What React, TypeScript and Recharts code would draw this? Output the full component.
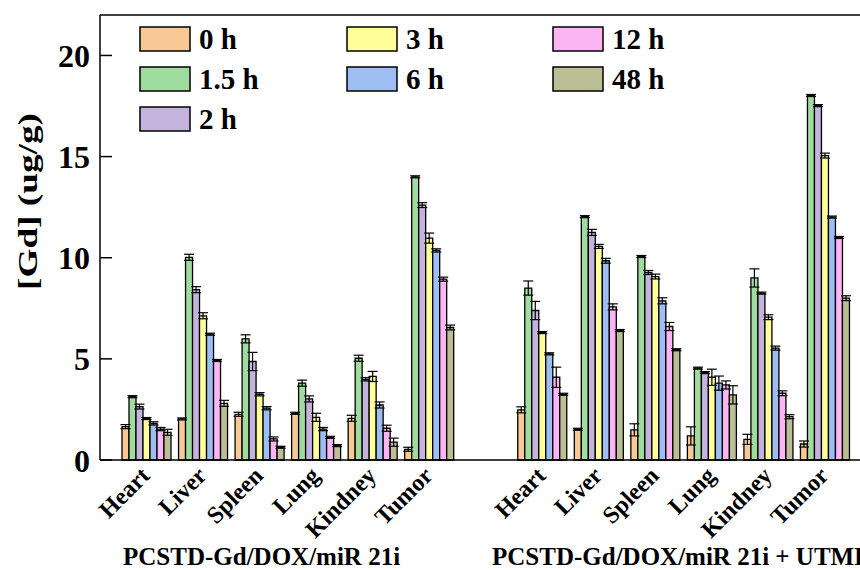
import React from 'react';
import { BarChart, Bar, XAxis, YAxis, ErrorBar, ReferenceLine } from 'recharts';

const organs = ['Heart', 'Liver', 'Spleen', 'Lung', 'Kindney', 'Tumor'];
const groups = ['PCSTD-Gd/DOX/miR 21i', 'PCSTD-Gd/DOX/miR 21i + UTMD'];
const hours = ['0 h', '1.5 h', '2 h', '3 h', '6 h', '12 h', '48 h'];
const colors = ['#F9C995', '#A0DBA0', '#C4B3DC', '#FFFF9C', '#9EBDF3', '#FAB5F2', '#BCBF96'];
const yTicks = [0, 5, 10, 15, 20];

// values: first 6 = without UTMD, last 6 = with UTMD
const h0 = [1.65, 2.03, 2.26, 2.31, 2.06, 0.53, 2.48, 1.52, 1.49, 1.19, 1.02, 0.79];
const h1_5 = [3.13, 10.02, 5.99, 3.8, 5.03, 14.0, 8.5, 12.03, 10.06, 4.54, 9.0, 18.02];
const h2 = [2.64, 8.42, 4.87, 3.02, 3.99, 12.6, 7.39, 11.25, 9.27, 4.32, 8.25, 17.52];
const h3 = [2.05, 7.13, 3.25, 2.11, 4.13, 10.97, 6.3, 10.56, 9.07, 4.09, 7.06, 15.05];
const h6 = [1.81, 6.22, 2.56, 1.53, 2.72, 10.36, 5.25, 9.85, 7.87, 3.8, 5.53, 12.01];
const h12 = [1.53, 4.92, 1.04, 1.12, 1.57, 8.94, 4.09, 7.57, 6.6, 3.71, 3.3, 11.0];
const h48 = [1.37, 2.8, 0.63, 0.71, 0.88, 6.55, 3.25, 6.4, 5.45, 3.22, 2.14, 8.0];

const e0 = [0.1, 0.05, 0.1, 0.05, 0.15, 0.1, 0.15, 0.05, 0.3, 0.45, 0.25, 0.15];
const e1_5 = [0.05, 0.15, 0.2, 0.15, 0.15, 0.05, 0.35, 0.05, 0.05, 0.05, 0.45, 0.05];
const e2 = [0.12, 0.15, 0.45, 0.15, 0.08, 0.12, 0.45, 0.15, 0.1, 0.05, 0.05, 0.05];
const e3 = [0.05, 0.15, 0.08, 0.2, 0.25, 0.25, 0.05, 0.1, 0.12, 0.4, 0.12, 0.12];
const e6 = [0.08, 0.05, 0.08, 0.08, 0.15, 0.08, 0.05, 0.12, 0.15, 0.35, 0.1, 0.05];
const e12 = [0.08, 0.05, 0.1, 0.05, 0.15, 0.1, 0.5, 0.15, 0.2, 0.2, 0.12, 0.05];
const e48 = [0.15, 0.15, 0.05, 0.05, 0.2, 0.12, 0.05, 0.05, 0.05, 0.45, 0.1, 0.12];

const series = [h0, h1_5, h2, h3, h6, h12, h48];
const errors = [e0, e1_5, e2, e3, e6, e12, e48];

const rows: any[] = [];
groups.forEach((g, gi) => {
  if (gi > 0) rows.push({ id: 'gap', organ: '' });
  organs.forEach((o, oi) => {
    const row: any = { id: `${gi}-${o}`, organ: o };
    series.forEach((s, si) => {
      row['v' + si] = s[gi * 6 + oi];
      row['e' + si] = errors[si][gi * 6 + oi];
    });
    rows.push(row);
  });
});

const FONT = '"Liberation Serif", "Times New Roman", serif';

const XTick = (props: any) => {
  const { x, y, payload } = props;
  const row = rows.find((r) => r.id === payload.value);
  const label = row ? row.organ : '';
  const px = x + 6;
  const py = y + 9;
  return (
    <text
      x={px}
      y={py}
      transform={`rotate(-45, ${px}, ${py})`}
      textAnchor="end"
      fontFamily={FONT}
      fontWeight="bold"
      fontSize={24}
      fill="#000"
    >
      {label}
    </text>
  );
};

const YTick = (props: any) => {
  const { x, y, payload } = props;
  return (
    <g>
      <line x1={x + 10} x2={x + 22} y1={y} y2={y} stroke="#000" strokeWidth={1.5} />
      <text x={x} y={y} dy="0.36em" textAnchor="end" fontFamily={FONT} fontWeight="bold" fontSize={32} fill="#000">
        {payload.value}
      </text>
    </g>
  );
};

const YLabel = (props: any) => {
  const { viewBox } = props;
  const cx = viewBox.x + 27;
  const cy = viewBox.y + viewBox.height / 2 - 36;
  return (
    <text
      x={cx}
      y={cy}
      transform={`rotate(-90, ${cx}, ${cy})`}
      textAnchor="middle"
      dominantBaseline="central"
      fontFamily={FONT}
      fontWeight="bold"
      fontSize={28}
      textLength={177}
      lengthAdjust="spacingAndGlyphs"
      fill="#000"
    >
      [Gd] (ug/g)
    </text>
  );
};

// legend cell (column, row) for each series
const legendCells = [[0, 0], [0, 1], [0, 2], [1, 0], [1, 1], [2, 0], [2, 1]];
const legendCols = [140, 347, 553];
const legendRows = [27, 67, 107];

export default function App() {
  return (
    <div style={{ position: 'absolute', left: 0, top: 0, width: 860, height: 570, overflow: 'hidden', background: '#fff' }}>
      <BarChart
        width={900}
        height={570}
        data={rows}
        margin={{ top: 15, right: 31, left: 0, bottom: 0 }}
        barCategoryGap={5}
        barGap={0}
      >
        <XAxis
          dataKey="id"
          height={110}
          padding={{ left: 17, right: 17 }}
          interval={0}
          tickLine={false}
          axisLine={{ stroke: '#000', strokeWidth: 1.5 }}
          tick={<XTick />}
        />
        <YAxis
          type="number"
          domain={[0, 22]}
          ticks={yTicks}
          width={100}
          tickSize={0}
          tickMargin={10}
          tickLine={false}
          axisLine={{ stroke: '#000', strokeWidth: 1.5 }}
          tick={<YTick />}
          label={<YLabel />}
        />
        <ReferenceLine y={22} stroke="#000" strokeWidth={1.5} />
        {hours.map((h, i) => (
          <Bar
            key={h}
            dataKey={'v' + i}
            name={h}
            fill={colors[i]}
            stroke="#000"
            strokeWidth={1.3}
            isAnimationActive={false}
          >
            <ErrorBar dataKey={'e' + i} width={5} stroke="#000" strokeWidth={1.2} />
          </Bar>
        ))}
      </BarChart>
      <svg width={860} height={570} style={{ position: 'absolute', left: 0, top: 0, pointerEvents: 'none' }}>
        {hours.map((h, i) => {
          const lx = legendCols[legendCells[i][0]];
          const ly = legendRows[legendCells[i][1]];
          return (
            <g key={h}>
              <rect x={lx} y={ly} width={50} height={24} fill={colors[i]} stroke="#000" strokeWidth={1.5} />
              <text x={lx + 59} y={ly + 12} dy="0.36em" fontFamily={FONT} fontWeight="bold" fontSize={29} fill="#000">
                {h}
              </text>
            </g>
          );
        })}
        <text x={123} y={565} fontFamily={FONT} fontWeight="bold" fontSize={25} fill="#000">
          {groups[0]}
        </text>
        <text x={492} y={565} fontFamily={FONT} fontWeight="bold" fontSize={25} fill="#000">
          {groups[1]}
        </text>
      </svg>
    </div>
  );
}
